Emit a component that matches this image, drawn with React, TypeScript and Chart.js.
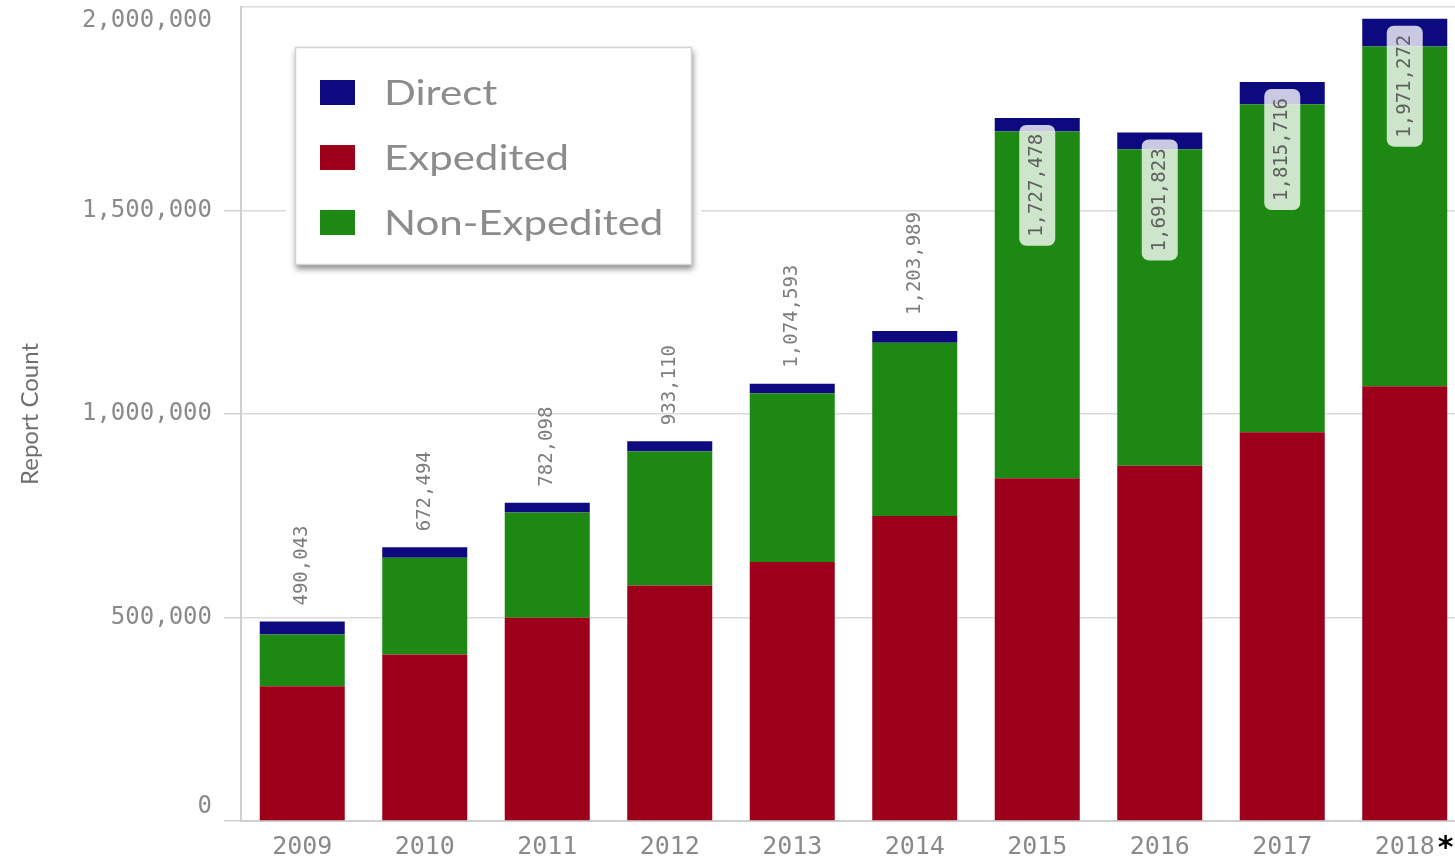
import React, { useEffect, useRef } from 'react';
import { Chart, registerables } from 'chart.js';

Chart.register(...registerables);

// Report counts per year, split by report type
const years = ['2009', '2010', '2011', '2012', '2013', '2014', '2015', '2016', '2017', '2018'];
const expedited = [330800, 408900, 499300, 578800, 636200, 749500, 842300, 872600, 954900, 1068200];
const nonExpedited = [127300, 238100, 258600, 329300, 414800, 425400, 851500, 777600, 806100, 834900];
const direct = [31943, 25494, 24198, 25010, 23593, 29089, 33678, 41623, 54716, 68172];
const yTickValues = [0, 500000, 1000000, 1500000, 2000000];
const footnoteYear = '2018';
const footnoteMark = '*';

const W = 1466;
const H = 860;

const COLOR_DIRECT = '#0d0a80';
const COLOR_EXPEDITED = '#9c001b';
const COLOR_NON_EXPEDITED = '#1d8912';

const MONO = '"DejaVu Sans Mono", monospace';
const fmt = (v: number) => v.toLocaleString('en-US');

// Stack totals: above the bar when there is comfortable room, otherwise inside on a light chip
const totalsPlugin = {
  id: 'stackTotals',
  afterDatasetsDraw(chart: any) {
    const { ctx, chartArea } = chart;
    const datasets = chart.data.datasets;
    const topMeta = chart.getDatasetMeta(datasets.length - 1);
    ctx.save();
    ctx.font = `19px ${MONO}`;
    ctx.textBaseline = 'middle';
    chart.data.labels.forEach((_: string, i: number) => {
      const total = datasets.reduce((s: number, d: any) => s + (d.data[i] as number), 0);
      const text = fmt(total);
      const bar = topMeta.data[i];
      const x = bar.x;
      const top = bar.y;
      const len = ctx.measureText(text).width;
      const gap = 16;
      const fitsAbove = top - chartArea.top >= len + gap + 40;
      ctx.save();
      ctx.translate(x, 0);
      ctx.rotate(-Math.PI / 2);
      if (fitsAbove) {
        ctx.fillStyle = '#7d7d7d';
        ctx.textAlign = 'left';
        ctx.fillText(text, -(top - gap), 0);
      } else {
        const pad = 9;
        const boxTop = top + 7;
        const boxLen = len + 2 * pad;
        const boxW = 36;
        ctx.fillStyle = 'rgba(255,255,255,0.78)';
        ctx.beginPath();
        ctx.roundRect(-(boxTop + boxLen), -boxW / 2, boxLen, boxW, 7);
        ctx.fill();
        ctx.fillStyle = '#5f5f5f';
        ctx.textAlign = 'right';
        ctx.fillText(text, -(boxTop + pad), 0);
      }
      ctx.restore();
    });
    ctx.restore();
  },
};

// Floating legend box in the upper-left of the plot
const legendPlugin = {
  id: 'floatingLegend',
  afterDraw(chart: any) {
    const { ctx, chartArea } = chart;
    const bx = chartArea.left + 54;
    const by = chartArea.top + 40;
    const bw = 397;
    const bh = 218;
    ctx.save();
    ctx.fillStyle = '#ffffff';
    ctx.fillRect(bx - 9, by - 6, bw + 18, bh + 16);
    ctx.save();
    ctx.shadowColor = 'rgba(0,0,0,0.45)';
    ctx.shadowBlur = 6;
    ctx.shadowOffsetX = 1;
    ctx.shadowOffsetY = 4;
    ctx.fillStyle = '#ffffff';
    ctx.fillRect(bx, by, bw, bh);
    ctx.restore();
    ctx.strokeStyle = '#d4d4d4';
    ctx.lineWidth = 1.5;
    ctx.strokeRect(bx + 0.5, by + 0.5, bw - 1, bh - 1);
    const items = [...chart.data.datasets].sort((a: any, b: any) => a.label.localeCompare(b.label));
    items.forEach((ds: any, k: number) => {
      const rowTop = by + 33 + k * 65;
      ctx.fillStyle = ds.backgroundColor;
      ctx.fillRect(bx + 25, rowTop, 35, 25);
      ctx.save();
      ctx.translate(bx + 89, rowTop + 25);
      ctx.scale(1.235, 1);
      ctx.font = '34px Lato';
      ctx.fillStyle = '#8c8c8c';
      ctx.textBaseline = 'alphabetic';
      ctx.textAlign = 'left';
      ctx.fillText(ds.label, 0, 0);
      ctx.restore();
    });
    ctx.restore();
  },
};

// Footnote marker after the last year's label
const footnotePlugin = {
  id: 'footnoteMark',
  afterDraw(chart: any) {
    const { ctx } = chart;
    const xScale = chart.scales.x;
    const idx = chart.data.labels.indexOf(footnoteYear);
    if (idx < 0) return;
    const x = xScale.getPixelForTick(idx);
    ctx.save();
    ctx.font = `25px ${MONO}`;
    const w = ctx.measureText(footnoteYear).width;
    ctx.font = 'bold 30px "DejaVu Sans"';
    ctx.fillStyle = '#000000';
    ctx.textAlign = 'left';
    ctx.textBaseline = 'alphabetic';
    ctx.fillText(footnoteMark, x + w / 2 + 3, chart.chartArea.bottom + 36);
    ctx.restore();
  },
};

export default function App() {
  const canvasRef = useRef<HTMLCanvasElement | null>(null);

  useEffect(() => {
    document.documentElement.style.overflow = 'hidden';
    const canvas = canvasRef.current;
    if (!canvas) return;
    const chart = new Chart(canvas, {
      type: 'bar',
      data: {
        labels: years,
        datasets: [
          { label: 'Expedited', data: expedited, backgroundColor: COLOR_EXPEDITED },
          { label: 'Non-Expedited', data: nonExpedited, backgroundColor: COLOR_NON_EXPEDITED },
          { label: 'Direct', data: direct, backgroundColor: COLOR_DIRECT },
        ],
      },
      options: {
        responsive: false,
        animation: false,
        devicePixelRatio: 1,
        layout: { padding: { top: 7, left: 0, right: 0, bottom: 0 } },
        datasets: {
          bar: { barPercentage: 0.694, categoryPercentage: 1.0, borderWidth: 0 },
        },
        plugins: {
          legend: { display: false },
          tooltip: { enabled: false },
        },
        scales: {
          x: {
            stacked: true,
            grid: { display: false, drawTicks: false },
            border: { display: true, color: '#cfcfcf', width: 2 },
            ticks: {
              font: { family: MONO, size: 25 },
              color: '#8a8a8a',
              padding: 11,
              maxRotation: 0,
              autoSkip: false,
            },
            afterFit: (scale: any) => {
              scale.height = 39;
              scale.paddingLeft = 0;
              scale.paddingRight = 0;
            },
          },
          y: {
            stacked: true,
            min: 0,
            max: 2000000,
            afterBuildTicks: (scale: any) => {
              scale.ticks = yTickValues.map((v) => ({ value: v }));
            },
            grid: {
              color: '#dadada',
              lineWidth: 1.5,
              tickLength: 17,
              tickColor: (c: any) =>
                c.tick && c.tick.value === yTickValues[yTickValues.length - 1] ? 'rgba(0,0,0,0)' : '#d0d0d0',
            },
            border: { display: true, color: '#cfcfcf', width: 2 },
            ticks: {
              font: { family: MONO, size: 24, lineHeight: 1.15 },
              color: '#8a8a8a',
              padding: 12,
              callback: (value: any, index: number, ticks: any[]) => {
                const s = fmt(Number(value));
                if (index === 0) return [s, ''];
                if (index === ticks.length - 1) return ['', s];
                return s;
              },
            },
            title: {
              display: true,
              text: 'Report Count',
              font: { family: 'Lato', size: 24 },
              color: '#6e6e6e',
              padding: { top: 16, bottom: 0 },
            },
            afterFit: (scale: any) => {
              scale.width = 241;
              scale.paddingTop = 0;
              scale.paddingBottom = 0;
            },
          },
        },
      },
      plugins: [totalsPlugin, legendPlugin, footnotePlugin],
    } as any);
    return () => chart.destroy();
  }, []);

  return (
    <div style={{ position: 'fixed', left: 0, top: 0, width: W, height: H, background: '#ffffff' }}>
      <canvas ref={canvasRef} width={W} height={H} style={{ width: W, height: H, display: 'block' }} />
    </div>
  );
}
